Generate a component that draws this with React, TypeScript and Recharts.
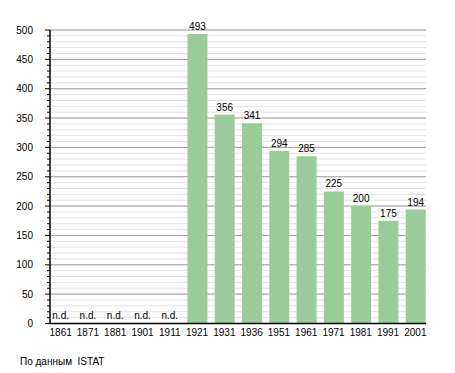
import { BarChart, Bar, XAxis, YAxis, CartesianGrid, LabelList } from 'recharts';

const years = ['1861', '1871', '1881', '1901', '1911', '1921', '1931', '1936', '1951', '1961', '1971', '1981', '1991', '2001'];
const population = [null, null, null, null, null, 493, 356, 341, 294, 285, 225, 200, 175, 194];
const majorTicks = [0, 50, 100, 150, 200, 250, 300, 350, 400, 450, 500];
const allTicks = Array.from({ length: 51 }, (_, i) => i * 10);
const sourceNote = 'По данным  ISTAT';

const data = years.map((year, i) => ({ year, value: population[i] }));

const FONT = '"Liberation Sans", Arial, sans-serif';

// major gridlines at every 50, positioned through the y scale when available
function majorLines({ yAxis, offset }: any) {
  const scale = yAxis?.scale;
  const [lo, hi] = [0, 500];
  return majorTicks.map((t) => {
    if (typeof scale === 'function') return scale(t);
    if (scale && typeof scale.map === 'function') return scale.map(t);
    return offset.top + offset.height * (1 - (t - lo) / (hi - lo));
  });
}

function YTick(props: any) {
  const { x, y, payload } = props;
  const isMajor = payload.value % 50 === 0;
  return (
    <g>
      <line x1={x - (isMajor ? 5 : 3)} x2={x} y1={y} y2={y} stroke="#000" strokeWidth={1} />
      {isMajor && (
        <text x={x - 17} y={y} dy={3.5} textAnchor="end" fontSize={10} fontFamily={FONT} fill="#000">
          {payload.value}
        </text>
      )}
    </g>
  );
}

function XTick(props: any) {
  const { x, y, payload, index } = props;
  const missing = population[index] == null;
  return (
    <g>
      <text x={x} y={y + 12} textAnchor="middle" fontSize={10} fontFamily={FONT} fill="#000">
        {payload.value}
      </text>
      {missing && (
        <text x={x} y={y - 5} textAnchor="middle" fontSize={10} fontFamily={FONT} fill="#000">
          n.d.
        </text>
      )}
    </g>
  );
}

export default function App() {
  return (
    <div style={{ position: 'absolute', left: 0, top: 0, width: 455, height: 373, background: '#fff' }}>
      <BarChart width={455} height={373} data={data} margin={{ top: 30, right: 29, left: 0, bottom: 30 }}>
        <CartesianGrid vertical={false} stroke="#e2e2e2" strokeWidth={1} />
        <CartesianGrid vertical={false} stroke="#a0a0a0" strokeWidth={1} horizontalCoordinatesGenerator={majorLines} />
        <XAxis
          dataKey="year"
          height={19.5}
          interval={0}
          padding={{ left: -3, right: -3 }}
          tickLine={false}
          tickSize={0}
          tickMargin={0}
          axisLine={{ stroke: '#000', strokeWidth: 1.5 }}
          tick={<XTick />}
        />
        <YAxis
          width={50}
          domain={[0, 500]}
          ticks={allTicks}
          interval={0}
          tickLine={false}
          tickSize={0}
          tickMargin={0}
          axisLine={{ stroke: '#000', strokeWidth: 1.5 }}
          tick={<YTick />}
        />
        <Bar dataKey="value" fill="#99cc99" barSize={20} isAnimationActive={false}>
          <LabelList dataKey="value" position="top" offset={4} fontSize={10} fontFamily={FONT} fill="#000" />
        </Bar>
      </BarChart>
      <div
        style={{
          position: 'absolute',
          left: 20,
          top: 356,
          fontSize: 10,
          fontFamily: FONT,
          color: '#000',
          whiteSpace: 'pre',
        }}
      >
        {sourceNote}
      </div>
    </div>
  );
}
